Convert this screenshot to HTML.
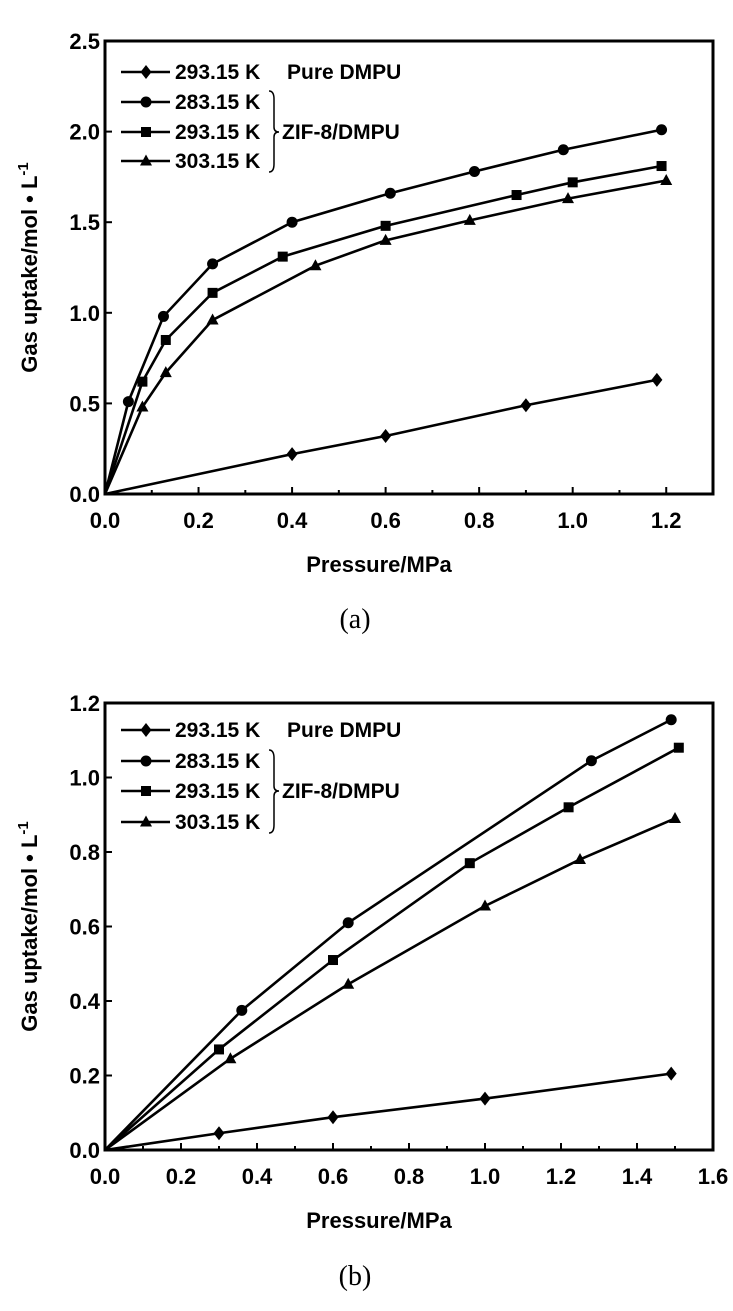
<!DOCTYPE html>
<html><head><meta charset="utf-8"><style>
body{margin:0;background:#fff;}
svg{display:block;font-family:"Liberation Sans",sans-serif;}
.t{font-weight:bold;font-size:22px;}
.l{font-weight:bold;font-size:21px;}
</style></head><body>
<svg id="s" width="733" height="1311" viewBox="0 0 733 1311" xmlns="http://www.w3.org/2000/svg"></svg>
<script>
// Panel (a) data
const aPureX=[0,0.40,0.60,0.90,1.18];
const aPureY=[0,0.22,0.32,0.49,0.63];
const a283X=[0,0.05,0.125,0.23,0.40,0.61,0.79,0.98,1.19];
const a283Y=[0,0.51,0.98,1.27,1.50,1.66,1.78,1.90,2.01];
const a293X=[0,0.08,0.13,0.23,0.38,0.60,0.88,1.00,1.19];
const a293Y=[0,0.62,0.85,1.11,1.31,1.48,1.65,1.72,1.81];
const a303X=[0,0.08,0.13,0.23,0.45,0.60,0.78,0.99,1.20];
const a303Y=[0,0.48,0.67,0.96,1.26,1.40,1.51,1.63,1.73];
const aXTicks=["0.0","0.2","0.4","0.6","0.8","1.0","1.2"];
const aYTicks=["0.0","0.5","1.0","1.5","2.0","2.5"];
// Panel (b) data
const bPureX=[0,0.30,0.60,1.00,1.49];
const bPureY=[0,0.045,0.088,0.138,0.205];
const b283X=[0,0.36,0.64,1.28,1.49];
const b283Y=[0,0.375,0.61,1.045,1.155];
const b293X=[0,0.30,0.60,0.96,1.22,1.51];
const b293Y=[0,0.27,0.51,0.77,0.92,1.08];
const b303X=[0,0.33,0.64,1.00,1.25,1.50];
const b303Y=[0,0.245,0.445,0.655,0.78,0.89];
const bXTicks=["0.0","0.2","0.4","0.6","0.8","1.0","1.2","1.4","1.6"];
const bYTicks=["0.0","0.2","0.4","0.6","0.8","1.0","1.2"];

const NS="http://www.w3.org/2000/svg";
const svg=document.getElementById('s');
function mk(tag,attrs,parent,text){const e=document.createElementNS(NS,tag);for(const k in attrs)e.setAttribute(k,attrs[k]);if(text!==undefined)e.textContent=text;(parent||svg).appendChild(e);return e;}

function marker(g,type,x,y){
  let e;
  if(type==='diamond'){e=mk('polygon',{points:`${x},${y-7} ${x+5.5},${y} ${x},${y+7} ${x-5.5},${y}`,fill:'#000'},g);}
  else if(type==='circle'){e=mk('circle',{cx:x,cy:y,r:5.5,fill:'#000'},g);}
  else if(type==='square'){e=mk('rect',{x:x-5,y:y-5,width:10,height:10,fill:'#000'},g);}
  else {e=mk('polygon',{points:`${x},${y-6.5} ${x+6},${y+4.5} ${x-6},${y+4.5}`,fill:'#000'},g);}
  
  
}

function panel(cfg){
  const {L,R,T,B,xmax,ymax,xt,yt,xminor,series,leg,name,cap,capY,xtitleY}=cfg;
  const sx=v=>L+v/xmax*(R-L), sy=v=>B-v/ymax*(B-T);
  const g=mk('g',{});
  
  
  const nx=Math.round(xmax/xminor);
  for(let i=0;i<=nx;i++){const x=sx(i*xminor);const major=i%2===0;
    const t=mk('line',{x1:x,y1:B,x2:x,y2:B-(major?7:4),stroke:'#000','stroke-width':2},g);
    }
  xt.forEach(s=>{const v=parseFloat(s);
    const t=mk('text',{x:sx(v),y:B+34,'text-anchor':'middle',class:'t'},g,s);
    });
  yt.forEach(s=>{const v=parseFloat(s);const y=sy(v);
    const k=mk('line',{x1:L,y1:y,x2:L+7,y2:y,stroke:'#000','stroke-width':2},g);
    
    const t=mk('text',{x:L-5,y:y+8,'text-anchor':'end',class:'t'},g,s);
    });
  series.forEach(se=>{
    const sg=mk('g',{},g);
    
    
    const pts=se.x.map((v,i)=>sx(v)+','+sy(se.y[i])).join(' ');
    const pl=mk('polyline',{points:pts,fill:'none',stroke:'#000','stroke-width':2.6},sg);
    
    se.x.forEach((v,i)=>{if(i>0)marker(sg,se.m,sx(v),sy(se.y[i]));});
  });
  const fr=mk('rect',{x:L,y:T,width:R-L,height:B-T,fill:'none',stroke:'#000','stroke-width':3},g);
  
  const lg=mk('g',{},g);
  
  const labs=['293.15 K','283.15 K','293.15 K','303.15 K'];
  series.forEach((se,i)=>{const y=leg[i];
    const e=mk('g',{},lg);
    
    mk('line',{x1:L+16,y1:y,x2:L+65,y2:y,stroke:'#000','stroke-width':2.6},e);
    marker(e,se.m,L+41,y);
    mk('text',{x:L+70,y:y+7,class:'l'},e,labs[i]);
  });
  const p=mk('text',{x:L+182,y:leg[0]+7,class:'l'},lg,'Pure DMPU');
  
  const bx=L+166,y0=leg[1]-11,y1=leg[3]+11,ym=leg[2];
  const br=mk('path',{d:`M${bx-2},${y0} Q${bx+3},${y0} ${bx+3},${y0+8} L${bx+3},${ym-5} Q${bx+3},${ym} ${bx+8},${ym} Q${bx+3},${ym} ${bx+3},${ym+5} L${bx+3},${y1-8} Q${bx+3},${y1} ${bx-2},${y1}`,fill:'none',stroke:'#000','stroke-width':1.5},lg);
  
  const z=mk('text',{x:L+177,y:ym+7,class:'l'},lg,'ZIF-8/DMPU');
  
  const xt2=mk('text',{x:(L+R)/2-30,y:xtitleY,'text-anchor':'middle',class:'t'},g,'Pressure/MPa');
  
  const cy=(T+B)/2;
  const yt2=mk('text',{x:0,y:0,'text-anchor':'middle',class:'t',transform:`translate(37,${cy}) rotate(-90)`},g);
  
  yt2.appendChild(document.createTextNode('Gas uptake/mol \u2022 L'));
  mk('tspan',{dy:-9,'font-size':15},yt2,'-1');
  const c=mk('text',{x:355,y:capY,'text-anchor':'middle','font-family':'"Liberation Serif",serif','font-size':28},g,cap);
  
}

panel({name:'chart-a',L:105,R:713,T:41,B:494,xmax:1.3,ymax:2.5,xt:aXTicks,yt:aYTicks,xminor:0.1,
  series:[{id:'pure-293',m:'diamond',x:aPureX,y:aPureY},{id:'zif-283',m:'circle',x:a283X,y:a283Y},
          {id:'zif-293',m:'square',x:a293X,y:a293Y},{id:'zif-303',m:'triangle',x:a303X,y:a303Y}],
  leg:[72,102,132,161],cap:'(a)',capY:628,xtitleY:572});
panel({name:'chart-b',L:105,R:713,T:703,B:1150,xmax:1.6,ymax:1.2,xt:bXTicks,yt:bYTicks,xminor:0.1,
  series:[{id:'pure-293',m:'diamond',x:bPureX,y:bPureY},{id:'zif-283',m:'circle',x:b283X,y:b283Y},
          {id:'zif-293',m:'square',x:b293X,y:b293Y},{id:'zif-303',m:'triangle',x:b303X,y:b303Y}],
  leg:[730,761,791,822],cap:'(b)',capY:1285,xtitleY:1228});
</script>
</body></html>
